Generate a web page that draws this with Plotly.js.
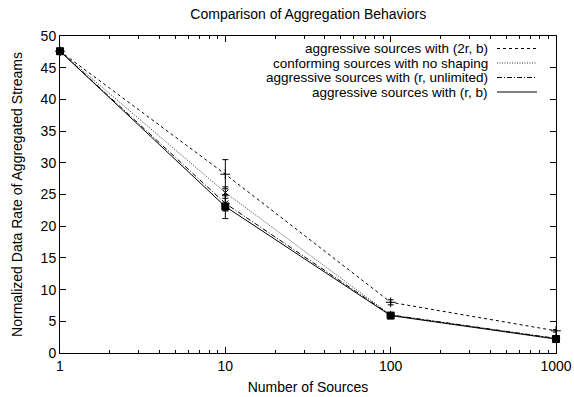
<!DOCTYPE html>
<html>
<head>
<meta charset="utf-8">
<script src="https://cdn.plot.ly/plotly-3.0.1.min.js"></script>
<style>html,body{margin:0;padding:0;background:#fff}#chart{width:574px;height:397px}</style>
</head>
<body>
<div id="chart"></div>
<script>
const sources = [1, 10, 100, 1000];
const seriesNames = [
  "aggressive sources with (2r, b)",
  "conforming sources with no shaping",
  "aggressive sources with (r, unlimited)",
  "aggressive sources with (r, b)"
];
const agg2rb = [47.6, 28.2, 8.0, 3.5];
const conforming = [47.6, 25.3, 6.0, 2.3];
const aggRUnl = [47.6, 23.6, 6.0, 2.3];
const aggRB = [47.6, 23.1, 5.9, 2.2];
const err2rb = [0.2, 2.3, 0.4, 0.2];
const errConf = [0.2, 0.9, 0.2, 0.1];
const errRUnl = [0.2, 1.2, 0.2, 0.1];
const errRB = [0.2, 1.9, 0.2, 0.1];

const values = [agg2rb, conforming, aggRUnl, aggRB];
const errs = [err2rb, errConf, errRUnl, errRB];
const dashes = ["3px,3px", "1px,1.5px", "5px,2px,1px,2px", "solid"];
const lineColors = ["#000", "#333", "#000", "#000"];
const symbols = ["cross-thin-open", "x-thin-open", "asterisk-open", "square"];
const msizes = [7, 6, 7, 7];

const traces = [];
values.forEach((v, i) => {
  traces.push({
    x: sources, y: v, type: "scatter", mode: "lines+markers",
    name: seriesNames[i], showlegend: false, cliponaxis: false,
    line: {color: lineColors[i], width: 1, dash: dashes[i]},
    marker: {symbol: symbols[i], size: msizes[i], color: "#000", line: {color: "#000", width: 1}},
    error_y: {type: "data", array: errs[i], visible: true, color: "#000", thickness: 1, width: 3}
  });
});

const shapes = [];
const annotations = [];
const rowY = [48.5, 63, 77.5, 92];
const H = 397, W = 574;
const ml = 60, mr = 18, mt = 36, mb = 44;
const pw = W - ml - mr, ph = H - mt - mb;
const FONT = "Liberation Sans, Arial, sans-serif";
function px2paperX(px){ return (px - ml) / pw; }
function px2paperY(py){ return 1 - (py - mt) / ph; }
seriesNames.forEach((n, i) => {
  annotations.push({
    text: n, xref: "paper", yref: "paper",
    x: px2paperX(489), y: px2paperY(rowY[i]),
    xanchor: "right", yanchor: "middle", showarrow: false, borderpad: 0,
    font: {family: FONT, size: 13.5, color: "#000"}
  });
  shapes.push({
    type: "line", xref: "paper", yref: "paper",
    x0: px2paperX(497), x1: px2paperX(537),
    y0: px2paperY(rowY[i]), y1: px2paperY(rowY[i]),
    line: {color: lineColors[i], width: 1, dash: dashes[i]}
  });
});

const layout = {
  width: W, height: H,
  margin: {l: ml, r: mr, t: mt, b: mb},
  paper_bgcolor: "#fff", plot_bgcolor: "#fff",
  font: {family: FONT, size: 14, color: "#000"},
  title: {text: "Comparison of Aggregation Behaviors", x: 0.537, xanchor: "center", y: 0.965, yanchor: "middle",
          font: {size: 14}},
  showlegend: false,
  xaxis: {
    type: "log", range: [0, 3],
    tickvals: [1, 10, 100, 1000], ticktext: ["1", "10", "100", "1000"],
    ticks: "inside", ticklen: 6, tickcolor: "#000",
    showline: true, linecolor: "#000", linewidth: 1, mirror: "ticks",
    showgrid: false, zeroline: false,
    minor: {ticks: "inside", ticklen: 3, tickcolor: "#000", dtick: "D1", showgrid: false},
    title: {text: "Number of Sources", standoff: 9, font: {size: 14}}
  },
  yaxis: {
    range: [0, 50], dtick: 5,
    ticks: "inside", ticklen: 6, tickcolor: "#000",
    showline: true, linecolor: "#000", linewidth: 1, mirror: "ticks",
    showgrid: false, zeroline: false,
    title: {text: "Normalized Data Rate of Aggregated Streams", standoff: 14, font: {size: 14}}
  },
  shapes: shapes,
  annotations: annotations
};

Plotly.newPlot("chart", traces, layout, {staticPlot: true});
</script>
</body>
</html>
